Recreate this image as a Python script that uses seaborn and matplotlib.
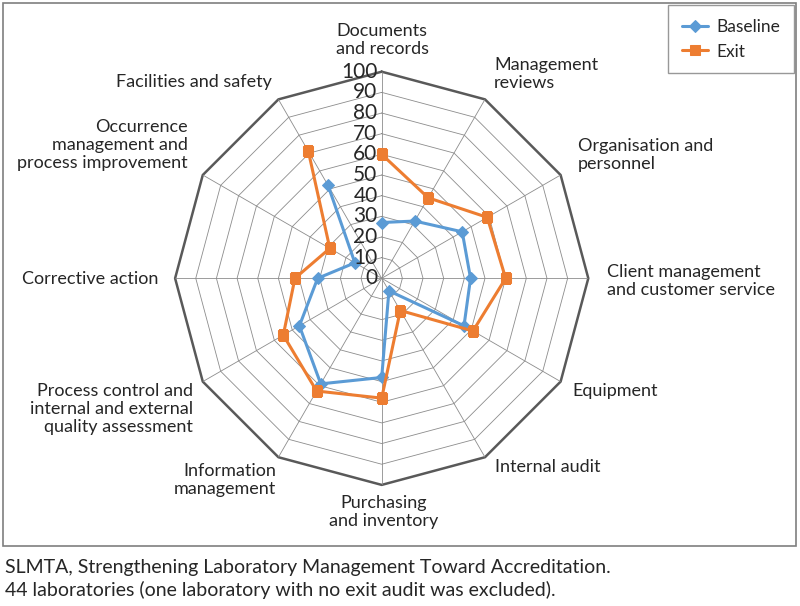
import numpy as np
import pandas as pd
import matplotlib
matplotlib.use('Agg')
import matplotlib.pyplot as plt
from matplotlib.patches import Rectangle
import seaborn as sns

categories = ['Documents and records', 'Management reviews', 'Organisation and personnel',
              'Client management and customer service', 'Equipment', 'Internal audit',
              'Purchasing and inventory', 'Information management',
              'Process control and internal and external quality assessment',
              'Corrective action', 'Occurrence management and process improvement',
              'Facilities and safety']
baseline = [27, 32, 45, 43, 46, 7, 48, 59, 46, 31, 15, 52]
exit_scores = [60, 45, 59, 60, 51, 18, 58, 63, 55, 42, 29, 71]
ticks = [0, 10, 20, 30, 40, 50, 60, 70, 80, 90, 100]

sns.set_style('white')
plt.rcParams['font.family'] = ['Lato', 'DejaVu Sans']

W, H = 800, 606
fig = plt.figure(figsize=(8, 6.06), dpi=100)

# polar axes placed so the centre / radius match the original
cx, cy, rad = 381.7, 278.3, 206.6
ax = fig.add_axes([(cx - rad) / W, (H - cy - rad) / H, 2 * rad / W, 2 * rad / H],
                  projection='polar')
ax.set_theta_zero_location('N')
ax.set_theta_direction(-1)
ax.set_ylim(0, 100)
ax.grid(False)
ax.set_xticks([])
ax.set_yticks([])
ax.spines['polar'].set_visible(False)

n = len(categories)
angles = np.linspace(0, 2 * np.pi, n, endpoint=False)
closed = np.append(angles, angles[0])

# polygon grid
for r in ticks[1:]:
    if r == 100:
        ax.plot(closed, [r] * (n + 1), color='#595959', lw=1.8, clip_on=False, zorder=1)
    else:
        ax.plot(closed, [r] * (n + 1), color='#8c8c8c', lw=0.6, zorder=1)
for a in angles:
    ax.plot([a, a], [0, 100], color='#8c8c8c', lw=0.6, zorder=1)

df = pd.DataFrame({'angle': closed,
                   'Baseline': baseline + baseline[:1],
                   'Exit': exit_scores + exit_scores[:1]})

sns.lineplot(data=df, x='angle', y='Baseline', sort=False, ax=ax, color='#5b9bd5',
             lw=2.2, marker='D', markersize=6, markeredgecolor='#5b9bd5',
             label='Baseline', zorder=3, legend=False)
sns.lineplot(data=df, x='angle', y='Exit', sort=False, ax=ax, color='#ed7d31',
             lw=2.2, marker='s', markersize=7, markeredgecolor='#ed7d31',
             label='Exit', zorder=4, legend=False)
ax.set_xlabel('')
ax.set_ylabel('')

for t in ticks:
    ax.annotate(str(t), xy=(0, t), xytext=(-3, 0), textcoords='offset points',
                ha='right', va='center', fontsize=15, color='#262626', zorder=5)

# category labels (pixel anchors, alignment)
labels = [
    ('Documents\nand records', 382, 40, 'center'),
    ('Management\nreviews', 494, 74, 'left'),
    ('Organisation and\npersonnel', 578, 155, 'left'),
    ('Client management\nand customer service', 607, 281, 'left'),
    ('Equipment', 572, 391, 'left'),
    ('Internal audit', 495, 467, 'left'),
    ('Purchasing\nand inventory', 384, 512, 'center'),
    ('Information\nmanagement', 276, 480, 'right'),
    ('Process control and\ninternal and external\nquality assessment', 193, 409, 'right'),
    ('Corrective action', 158, 279, 'right'),
    ('Occurrence\nmanagement and\nprocess improvement', 188, 145, 'right'),
    ('Facilities and safety', 272, 82, 'right'),
]
for txt, x, y, ha in labels:
    fig.text(x / W, 1 - y / H, txt, ha=ha, va='center', multialignment=ha,
             fontsize=13, color='#262626', linespacing=1.16)

handles, labs = ax.get_legend_handles_labels()
leg = fig.legend(handles, labs, loc='upper right', bbox_to_anchor=(794 / W, 1 - 5 / H),
                 fontsize=12.5, frameon=True, fancybox=False, edgecolor='#7f7f7f',
                 handlelength=1.5, handletextpad=0.5, borderpad=0.8,
                 borderaxespad=0, labelspacing=0.5)
leg.get_frame().set_linewidth(1.0)

fig.add_artist(Rectangle((3 / W, 1 - 546 / H), 793 / W, 543 / H, transform=fig.transFigure,
                         fill=False, ec='#7f7f7f', lw=1.2))

fig.text(5 / W, 1 - 567 / H, 'SLMTA, Strengthening Laboratory Management Toward Accreditation.',
         ha='left', va='center', fontsize=14, color='#262626')
fig.text(5 / W, 1 - 590 / H, '44 laboratories (one laboratory with no exit audit was excluded).',
         ha='left', va='center', fontsize=14, color='#262626')

fig.savefig('out.png', dpi=100)
